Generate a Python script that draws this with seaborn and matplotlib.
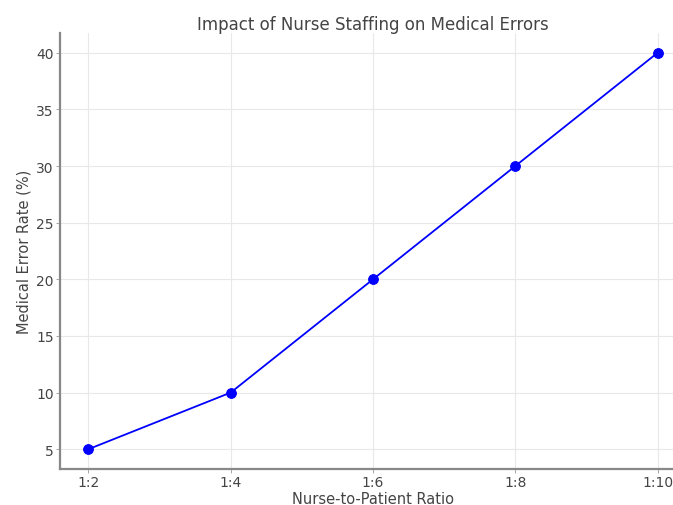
import matplotlib
matplotlib.use('Agg')
import matplotlib.pyplot as plt
import seaborn as sns
import pandas as pd

# данные с картинки
ratios = ['1:2', '1:4', '1:6', '1:8', '1:10']
error_rates = [5, 10, 20, 30, 40]

df = pd.DataFrame({'ratio': ratios, 'error_rate': error_rates})

sns.set_style('whitegrid', {
    'grid.color': '#e8e8e8',
    'axes.edgecolor': '#888888',
    'xtick.bottom': True,
    'ytick.left': True,
})
plt.rcParams['font.family'] = ['DejaVu Sans']

fig = plt.figure(figsize=(6.73, 5.06), dpi=100)
ax = fig.add_axes([60 / 673, 1 - 470 / 506, 626 / 673, 436 / 506])

sns.lineplot(data=df, x='ratio', y='error_rate', marker='o', color='blue',
             markersize=7, markeredgecolor='blue', linewidth=1.3, ax=ax, sort=False)

ax.set_title('Impact of Nurse Staffing on Medical Errors', fontsize=12, color='#444444', pad=3)
ax.set_xlabel('Nurse-to-Patient Ratio', fontsize=10.5, color='#444444', labelpad=1)
ax.set_ylabel('Medical Error Rate (%)', fontsize=10.5, color='#444444', labelpad=3)
ax.tick_params(labelsize=10, colors='#444444', length=3, width=0.6, pad=1.5)
ax.tick_params(color='#999999')
ax.spines['top'].set_visible(False)
ax.spines['right'].set_visible(False)
ax.spines['left'].set_linewidth(1.6)
ax.spines['bottom'].set_linewidth(1.6)
ax.grid(True, linewidth=0.8)

fig.savefig('out.png', dpi=100)
